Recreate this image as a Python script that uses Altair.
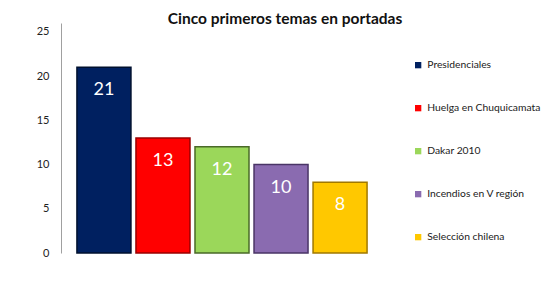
import altair as alt
import pandas as pd

temas = ["Presidenciales", "Huelga en Chuquicamata", "Dakar 2010", "Incendios en V región", "Selección chilena"]
valores = [21, 13, 12, 10, 8]
colores = ["#002060", "#FF0000", "#9BD75A", "#8A6BB0", "#FFC800"]
bordes = ["#00102E", "#9A0000", "#4A6A28", "#4A3566", "#A07800"]

df = pd.DataFrame({"tema": temas, "valor": valores})

FONT = "Lato"

x = alt.X("tema:N", sort=temas, axis=None,
          scale=alt.Scale(paddingInner=0.085, paddingOuter=0.27))
y = alt.Y("valor:Q", scale=alt.Scale(domain=[0, 25]),
          axis=alt.Axis(values=[0, 5, 10, 15, 20, 25], title=None, grid=False,
                        ticks=False, domainColor="#A0A0A0", labelPadding=12,
                        labelFont=FONT, labelFontSize=11, labelColor="#222222"))

bars = alt.Chart(df).mark_bar(strokeWidth=1.5).encode(
    x=x, y=y,
    fill=alt.Fill("tema:N", sort=temas,
                  scale=alt.Scale(domain=temas, range=colores),
                  legend=alt.Legend(title=None, orient="none", legendX=352, legendY=37,
                                    symbolType="square", symbolSize=40,
                                    symbolStrokeWidth=0, rowPadding=32,
                                    labelFont=FONT, labelFontSize=10.3,
                                    labelColor="#1A1A1A", labelLimit=200)),
    stroke=alt.Stroke("tema:N", sort=temas,
                      scale=alt.Scale(domain=temas, range=bordes), legend=None),
)

labels = alt.Chart(df).mark_text(color="white", font=FONT, fontSize=18,
                                 baseline="middle", dy=23).encode(
    x=alt.X("tema:N", sort=temas, axis=None), y=alt.Y("valor:Q"),
    text="valor:Q")

chart = alt.layer(bars, labels).properties(
    width=322, height=230,
    title=alt.TitleParams("Cinco primeros temas en portadas", font=FONT, fontSize=15.5,
                          fontWeight="bold", color="#111111", dx=63, offset=-4),
    autosize="none",
    padding={"left": 53, "top": 15, "right": 159, "bottom": 20},
).configure_view(stroke=None)

chart.save("out.html", embed_options={"renderer": "svg", "actions": False})
